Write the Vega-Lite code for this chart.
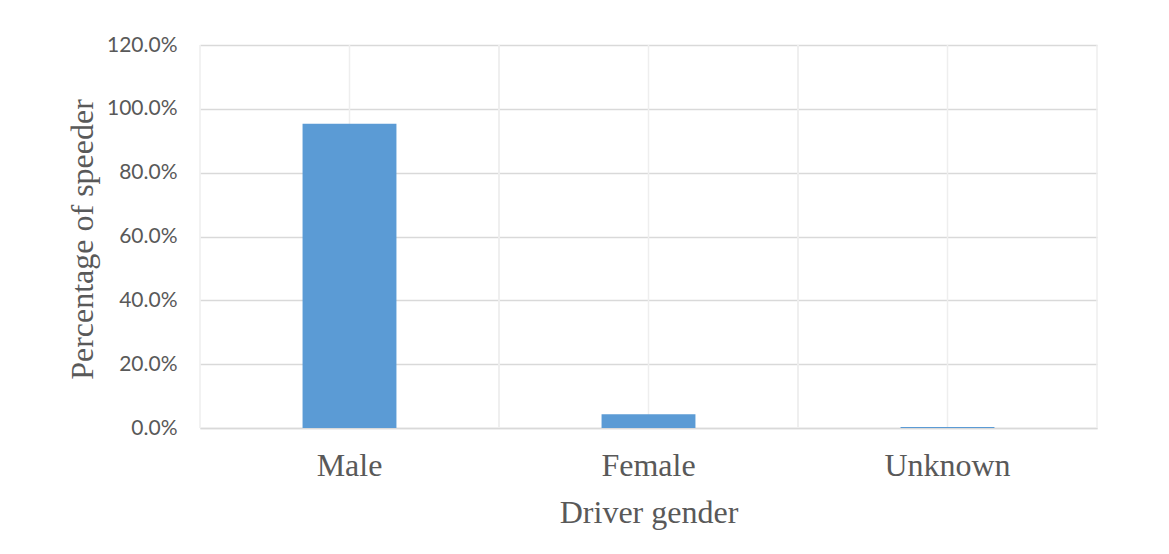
{
  "$schema": "https://vega.github.io/schema/vega-lite/v6.json",
  "width": 897,
  "height": 383,
  "autosize": {"type": "none"},
  "padding": {"left": 200, "top": 45, "right": 72, "bottom": 126},
  "background": "white",
  "config": {"view": {"stroke": null}},
  "data": {"values": [
    {"gender": "Male", "pct": 0.953},
    {"gender": "Female", "pct": 0.043},
    {"gender": "Unknown", "pct": 0.003}
  ]},
  "encoding": {
    "x": {
      "field": "gender", "type": "nominal", "sort": null,
      "scale": {"paddingInner": 0, "paddingOuter": 0},
      "axis": {
        "title": "Driver gender",
        "labelAngle": 0,
        "grid": false,
        "ticks": false,
        "domain": true,
        "domainColor": "#d9d9d9",
        "domainWidth": 1.5,
        "labelFont": "Liberation Serif",
        "labelFontSize": 32,
        "labelColor": "#595959",
        "labelBaseline": "alphabetic",
        "labelPadding": 47,
        "titleFont": "Liberation Serif",
        "titleFontSize": 32,
        "titleFontWeight": "normal",
        "titleColor": "#595959",
        "titleBaseline": "alphabetic",
        "titleY": 94
      }
    }
  },
  "layer": [
    {
      "mark": {"type": "rule", "color": "#eeeeee", "strokeWidth": 1.5},
      "encoding": {
        "x": {"field": "gender", "type": "nominal", "sort": null, "bandPosition": 0},
        "y": {"datum": 0, "type": "quantitative"},
        "y2": {"datum": 1.2}
      }
    },
    {
      "mark": {"type": "rule", "color": "#eeeeee", "strokeWidth": 1.5},
      "encoding": {
        "x": {"field": "gender", "type": "nominal", "sort": null, "bandPosition": 1},
        "y": {"datum": 0, "type": "quantitative"},
        "y2": {"datum": 1.2}
      }
    },
    {
      "mark": {"type": "rule", "color": "#eeeeee", "strokeWidth": 1.5},
      "encoding": {
        "x": {"field": "gender", "type": "nominal", "sort": null, "bandPosition": 0.5},
        "y": {"datum": 0, "type": "quantitative"},
        "y2": {"datum": 1.2}
      }
    },
    {
      "mark": {"type": "bar", "color": "#5b9bd5", "width": {"band": 0.314}},
      "encoding": {
        "y": {
          "field": "pct", "type": "quantitative",
          "scale": {"domain": [0, 1.2]},
          "axis": {
            "title": "Percentage of speeder",
            "format": ".1%",
            "values": [0, 0.2, 0.4, 0.6, 0.8, 1.0, 1.2],
            "labelOverlap": false,
            "grid": true,
            "gridColor": "#d9d9d9",
            "gridWidth": 1.5,
            "ticks": false,
            "domain": false,
            "labelFont": "Lato",
            "labelFontSize": 21,
            "labelColor": "#595959",
            "labelPadding": 23,
            "titleFont": "Liberation Serif",
            "titleFontSize": 32,
            "titleFontWeight": "normal",
            "titleColor": "#595959",
            "titleBaseline": "alphabetic",
            "titleX": -108,
            "titleY": 194
          }
        }
      }
    }
  ]
}
